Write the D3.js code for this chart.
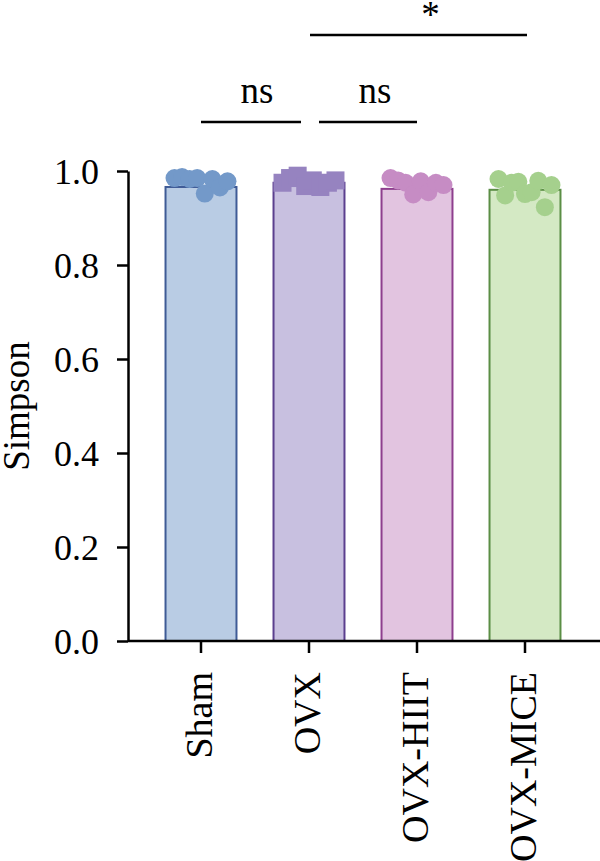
<!DOCTYPE html>
<html>
 <head>
  <meta charset="utf-8" />
  <title>Simpson</title>
  <style>
   body, html {
    margin: 0;
    padding: 0;
    background: #fff;
    overflow: hidden;
   }
  </style>
  <script src="https://cdnjs.cloudflare.com/ajax/libs/d3/7.9.0/d3.min.js"></script>
 </head>
 <body>
  <svg width="600" height="861"></svg>
  <script>
   // groups and bar means
   const groups = ["Sham", "OVX", "OVX-HIIT", "OVX-MICE"];
   const means = [0.966, 0.975, 0.962, 0.960];

   // individual samples, left to right inside each bar
   const shamPts = [0.985, 0.987, 0.983, 0.985, 0.952, 0.983, 0.965, 0.978];
   const ovxPts = [0.975, 0.985, 0.990, 0.968, 0.980, 0.966, 0.975, 0.980];
   const hiitPts = [0.985, 0.980, 0.975, 0.950, 0.978, 0.955, 0.975, 0.970];
   const micePts = [0.983, 0.948, 0.975, 0.977, 0.951, 0.955, 0.979, 0.923, 0.970];

   const yTicks = [0, 0.2, 0.4, 0.6, 0.8, 1.0];

   // comparisons: [from, to, label]
   const comparisons = [
    ["Sham", "OVX", "ns"],
    ["OVX", "OVX-HIIT", "ns"],
    ["OVX", "OVX-MICE", "*"]
   ];

   const points = [shamPts, ovxPts, hiitPts, micePts];
   const fills = ["#b9cce4", "#c8c0e0", "#e2c4e0", "#d4e9c4"];
   const strokes = ["#3f5b96", "#5b3f8e", "#8e3f8e", "#5b8e45"];
   const dotColors = ["#7399c9", "#9683c0", "#c68cc4", "#a5d08d"];

   const font = "'Liberation Serif', 'DejaVu Serif', serif";
   const svg = d3.select("svg").attr("font-family", font);
   const fontSize = 36;
   const r = 9;

   const x = d3.scaleBand()
    .domain(groups)
    .range([147, 579])
    .paddingInner(0.343)
    .paddingOuter(0.1715);

   const y = d3.scaleLinear()
    .domain([0, 1])
    .range([641, 171]);

   // bars
   svg.append("g").selectAll("rect")
    .data(groups)
    .enter().append("rect")
    .attr("x", d => x(d))
    .attr("y", (d, i) => y(means[i]))
    .attr("width", x.bandwidth())
    .attr("height", (d, i) => y(0) - y(means[i]))
    .attr("fill", (d, i) => fills[i])
    .attr("stroke", (d, i) => strokes[i])
    .attr("stroke-width", 2);

   // samples
   groups.forEach((g, gi) => {
    const pts = points[gi];
    const x0 = x(g) + r;
    const x1 = x(g) + x.bandwidth() - r;
    const px = i => x0 + (x1 - x0) * i / (pts.length - 1);
    const layer = svg.append("g").attr("fill", dotColors[gi]);
    if (g === "OVX") {
     layer.selectAll("rect")
      .data(pts)
      .enter().append("rect")
      .attr("x", (d, i) => px(i) - r)
      .attr("y", d => y(d) - r)
      .attr("width", r * 2)
      .attr("height", r * 2);
    } else {
     layer.selectAll("circle")
      .data(pts)
      .enter().append("circle")
      .attr("cx", (d, i) => px(i))
      .attr("cy", d => y(d))
      .attr("r", r);
    }
   });

   // y axis
   const yAxis = svg.append("g")
    .attr("transform", "translate(128,0)")
    .call(d3.axisLeft(y).tickValues(yTicks).tickFormat(d3.format(".1f"))
     .tickSize(11).tickPadding(18).tickSizeOuter(0))
    .attr("font-family", font)
    .attr("font-size", fontSize);
   yAxis.select(".domain").attr("stroke-width", 2.5);
   yAxis.selectAll(".tick line").attr("stroke-width", 2.5);
   yAxis.selectAll(".tick text").attr("dy", "0.34em");

   // x axis
   const xAxis = svg.append("g")
    .attr("transform", "translate(0,641)")
    .call(d3.axisBottom(x).tickSize(12).tickPadding(18).tickSizeOuter(0))
    .attr("font-family", font)
    .attr("font-size", fontSize + 2);
   xAxis.select(".domain").attr("d", "M128,0H600").attr("stroke-width", 2.5);
   xAxis.selectAll(".tick line").attr("stroke-width", 2.5);
   xAxis.selectAll(".tick text")
    .attr("text-anchor", "end")
    .attr("transform", "rotate(-90)")
    .attr("x", -31)
    .attr("y", 0)
    .attr("dy", "0.3em");

   // y label
   svg.append("text")
    .attr("transform", "translate(29,406) rotate(-90)")
    .attr("text-anchor", "middle")
    .attr("font-size", fontSize + 1)
    .text("Simpson");

   // significance brackets
   const cx = g => x(g) + x.bandwidth() / 2;
   const brackets = [
    { x1: cx(comparisons[0][0]), x2: cx(comparisons[0][1]) - 8, y: 122, dx: 6 },
    { x1: cx(comparisons[1][0]) + 10, x2: cx(comparisons[1][1]), y: 122, dx: 7 },
    { x1: cx(comparisons[2][0]) + 1, x2: cx(comparisons[2][1]) + 2, y: 35, dx: 12 }
   ];
   const ann = svg.append("g");
   comparisons.forEach((c, i) => {
    const b = brackets[i];
    ann.append("line")
     .attr("x1", b.x1).attr("x2", b.x2)
     .attr("y1", b.y).attr("y2", b.y)
     .attr("stroke", "#000")
     .attr("stroke-width", 2.5);
    ann.append("text")
     .attr("x", (b.x1 + b.x2) / 2 + b.dx)
     .attr("y", c[2] === "*" ? b.y - 8 : b.y - 19)
     .attr("text-anchor", "middle")
     .attr("font-size", fontSize + 1)
     .text(c[2]);
   });
  </script>
 </body>
</html>
